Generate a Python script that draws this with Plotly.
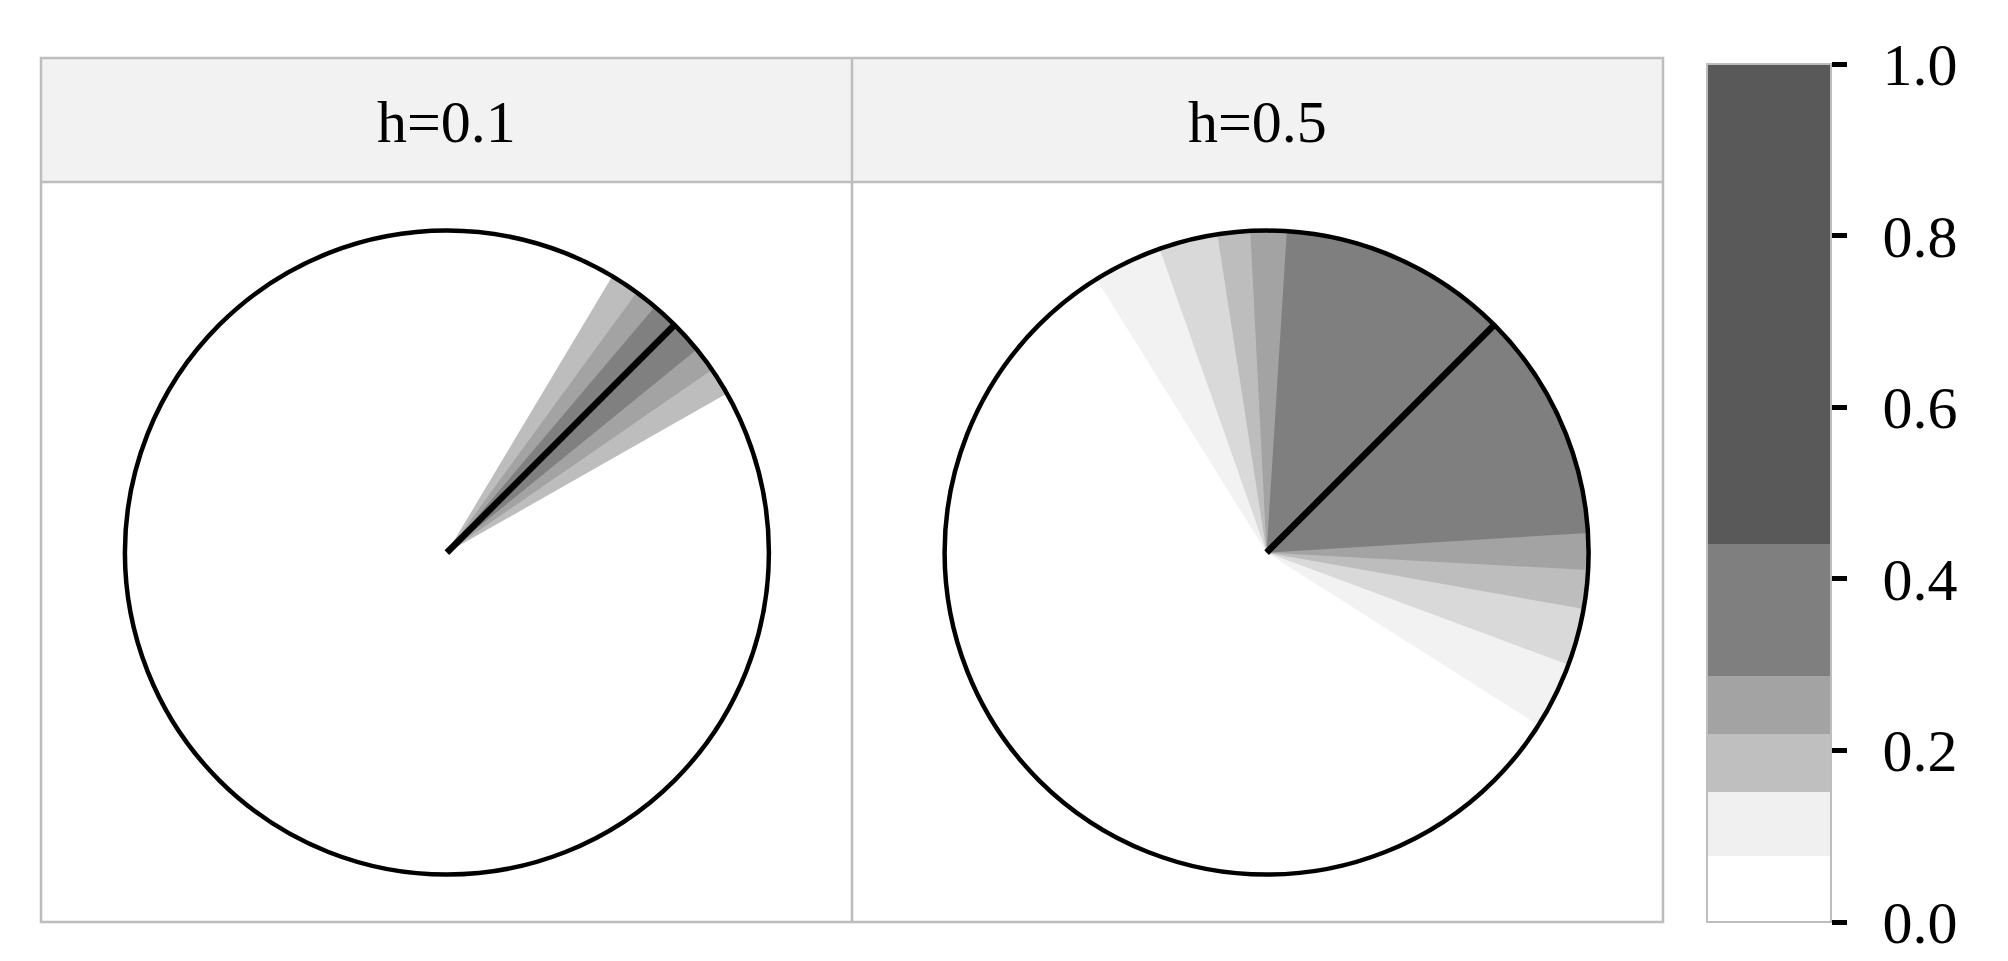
import plotly.graph_objects as go

W, H = 2008, 961

# ---------------- data ----------------
panel_titles = ["h=0.1", "h=0.5"]
mean_direction = [45.0, 45.0]  # degrees, thick line

# nested highest-density wedges (start / end angle in degrees, colour level)
p1_start = [29.6, 34.6, 39.1]
p1_end = [59.1, 53.9, 49.8]
p1_fill = ["#bdbdbd", "#a3a3a3", "#808080"]

p2_start = [-32.4, -20.4, -10.1, -3.1, 3.5]
p2_end = [121.9, 109.4, 98.8, 92.9, 86.4]
p2_fill = ["#f2f2f2", "#d9d9d9", "#bdbdbd", "#a3a3a3", "#7f7f7f"]

# colour bar levels
cb_breaks = [0.0, 0.077, 0.151, 0.219, 0.287, 0.44, 1.0]
cb_colors = ["#ffffff", "#f0f0f0", "#bfbfbf", "#a3a3a3", "#7f7f7f", "#595959"]
cb_tickvals = [0.0, 0.2, 0.4, 0.6, 0.8, 1.0]
cb_ticktext = ["0.0", "0.2", "0.4", "0.6", "0.8", "1.0"]

FONT = "Liberation Serif, Times New Roman, serif"

def px_x(x):
    return x / W

def px_y(y):
    return 1 - y / H

fig = go.Figure()

panels = [
    ("polar", p1_start, p1_end, p1_fill, mean_direction[0]),
    ("polar2", p2_start, p2_end, p2_fill, mean_direction[1]),
]

for sub, starts, ends, fills, md in panels:
    for s, e, c in zip(starts, ends, fills):
        fig.add_trace(go.Barpolar(
            r=[1.0], theta=[(s + e) / 2], width=[e - s], base=0,
            marker=dict(color=c, line=dict(width=0)),
            subplot=sub, showlegend=False, hoverinfo="skip"))
    fig.add_trace(go.Scatterpolar(
        r=[0, 1], theta=[md, md], mode="lines",
        line=dict(color="black", width=6.5),
        subplot=sub, showlegend=False, hoverinfo="skip"))

# stepped colour scale for colour bar
cs = []
for i, c in enumerate(cb_colors):
    cs.append([cb_breaks[i], c])
    cs.append([cb_breaks[i + 1], c])

fig.add_trace(go.Scatterpolar(
    r=[0, 0], theta=[0, 0], mode="markers",
    marker=dict(size=0.1, opacity=0, color=[0, 1], cmin=0, cmax=1,
                colorscale=cs, showscale=True,
                colorbar=dict(
                    x=px_x(1707), xanchor="left", xpad=0,
                    y=px_y((64 + 922) / 2), yanchor="middle", ypad=0,
                    len=922 - 64, lenmode="pixels",
                    thickness=124, thicknessmode="pixels",
                    outlinecolor="#bdbdbd", outlinewidth=2,
                    ticks="outside", ticklen=15, tickwidth=4.5, tickcolor="black",
                    tickvals=cb_tickvals,
                    ticktext=["\u2009\u2009" + t for t in cb_ticktext],
                    ticklabeloverflow="allow",
                    tickfont=dict(family=FONT, size=60, color="black"),
                )),
    subplot="polar", showlegend=False, hoverinfo="skip"))

R = 322
centers = [(446.9, 552.6), (1266.6, 552.6)]
polar_common = dict(
    bgcolor="white", barmode="overlay", bargap=0, hole=0,
    radialaxis=dict(visible=False, range=[0, 1]),
    angularaxis=dict(showline=True, linecolor="black", linewidth=4.5,
                     showgrid=False, showticklabels=False, ticks="",
                     rotation=0, direction="counterclockwise"),
)
for i, (cx, cy) in enumerate(centers):
    key = "polar" if i == 0 else "polar2"
    fig.update_layout(**{key: dict(
        domain=dict(x=[px_x(cx - R), px_x(cx + R)],
                    y=[px_y(cy + R), px_y(cy - R)]),
        **polar_common)})

# panel frame, strips
shapes = []
border = "#bdbdbd"
shapes.append(dict(type="rect", xref="paper", yref="paper",
                   x0=px_x(41), x1=px_x(1663), y0=px_y(58), y1=px_y(182),
                   fillcolor="#f2f2f2", line=dict(width=0), layer="below"))
shapes.append(dict(type="rect", xref="paper", yref="paper",
                   x0=px_x(41), x1=px_x(1663), y0=px_y(58), y1=px_y(922),
                   line=dict(color=border, width=2.5)))
shapes.append(dict(type="line", xref="paper", yref="paper",
                   x0=px_x(41), x1=px_x(1663), y0=px_y(182), y1=px_y(182),
                   line=dict(color=border, width=2.5)))
shapes.append(dict(type="line", xref="paper", yref="paper",
                   x0=px_x(852), x1=px_x(852), y0=px_y(58), y1=px_y(922),
                   line=dict(color=border, width=2.5)))

annotations = []
for title, xc in zip(panel_titles, [(41 + 852) / 2, (852 + 1663) / 2]):
    annotations.append(dict(text=title, xref="paper", yref="paper",
                            x=px_x(xc), y=px_y(122), xanchor="center",
                            yanchor="middle", showarrow=False,
                            font=dict(family=FONT, size=60, color="black")))

fig.update_layout(
    width=W, height=H, margin=dict(l=0, r=0, t=0, b=0),
    paper_bgcolor="white", plot_bgcolor="white",
    shapes=shapes, annotations=annotations, showlegend=False,
)

fig.write_html(
    "out.html",
    config={"displayModeBar": False},
    post_script="document.body.style.margin='0';document.body.style.overflow='hidden';",
)
